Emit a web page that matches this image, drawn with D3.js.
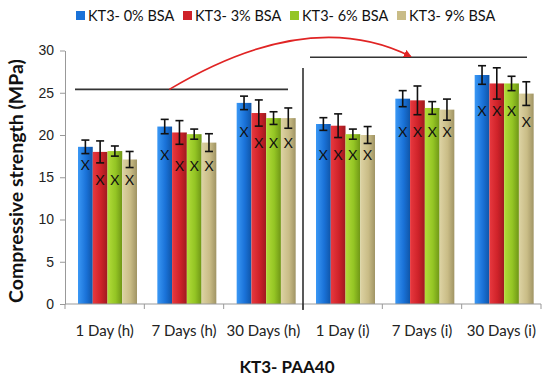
<!DOCTYPE html>
<html>
<head>
<meta charset="utf-8">
<script src="https://cdn.jsdelivr.net/npm/d3@7"></script>
<style>
  body { margin: 0; background: #fff; }
  svg { display: block; font-family: Lato, "Open Sans", sans-serif; }
</style>
</head>
<body>
<div id="chart"></div>
<script>
const categories = ['1 Day (h)', '7 Days (h)', '30 Days (h)', '1 Day (i)', '7 Days (i)', '30 Days (i)'];
const series = ['KT3- 0% BSA', 'KT3- 3% BSA', 'KT3- 6% BSA', 'KT3- 9% BSA'];
// mean strength per series, one value per category
const bsa0 = [18.6, 21.0, 23.8, 21.3, 24.3, 27.1];
const bsa3 = [18.0, 20.3, 22.6, 21.1, 24.1, 26.1];
const bsa6 = [18.1, 20.1, 22.0, 20.1, 23.2, 26.1];
const bsa9 = [17.1, 19.1, 22.0, 20.0, 23.0, 24.9];
// error (+/-)
const err0 = [0.8, 0.85, 0.8, 0.75, 0.95, 1.1];
const err3 = [1.3, 1.4, 1.55, 1.4, 1.7, 1.85];
const err6 = [0.6, 0.6, 0.75, 0.6, 0.75, 0.85];
const err9 = [0.95, 1.05, 1.2, 1.0, 1.25, 1.4];
// position of the "X" markers
const mark0 = [16.4, 17.6, 20.4, 17.6, 20.4, 22.9];
const mark3 = [14.7, 16.3, 19.0, 17.6, 20.4, 22.9];
const mark6 = [14.7, 16.3, 19.0, 17.6, 20.4, 22.9];
const mark9 = [14.7, 16.3, 19.0, 17.6, 20.4, 21.6];
const yTicks = [0, 5, 10, 15, 20, 25, 30];
// annotation levels
const levelH = 25.4;
const levelI = 29.2;

const colors = [['#3a98f5', '#1a72d8', '#0f55a8'], ['#e8393f', '#cf2229', '#9e1a20'],
                ['#b2dc3a', '#94c524', '#6f9616'], ['#ddd3a4', '#c9bc86', '#a09464']];

const width = 550, height = 381;
const margin = {top: 50, right: 9, bottom: 77, left: 65};

const svg = d3.select('#chart').append('svg')
  .attr('width', width).attr('height', height);

const defs = svg.append('defs');
colors.forEach((c, i) => {
  const g = defs.append('linearGradient').attr('id', 'grad' + i)
    .attr('x1', '0%').attr('x2', '100%').attr('y1', '0%').attr('y2', '0%');
  g.append('stop').attr('offset', '0%').attr('stop-color', c[0]);
  g.append('stop').attr('offset', '55%').attr('stop-color', c[1]);
  g.append('stop').attr('offset', '100%').attr('stop-color', c[2]);
});

const x = d3.scaleBand().domain(categories)
  .range([margin.left, width - margin.right]);
const xs = d3.scaleBand().domain(series).range([13, 72]);
const y = d3.scaleLinear().domain([0, 30]).range([304, 50.5]);

const values = [bsa0, bsa3, bsa6, bsa9];
const errs = [err0, err3, err6, err9];
const marks = [mark0, mark3, mark6, mark9];
const rows = [];
categories.forEach((c, ci) => series.forEach((s, si) => rows.push({
  cat: c, s, si, v: values[si][ci], e: errs[si][ci], m: marks[si][ci]
})));

// y axis
svg.append('g')
  .attr('transform', `translate(${margin.left},0)`)
  .call(d3.axisLeft(y).tickValues(yTicks).tickSize(5).tickSizeOuter(0).tickPadding(6))
  .call(g => g.selectAll('path,line').attr('stroke', '#999'))
  .call(g => g.selectAll('text').attr('font-size', 14).attr('fill', '#222'));

// bars
const bars = svg.append('g');
bars.selectAll('rect').data(rows).join('rect')
  .attr('x', d => x(d.cat) + xs(d.s))
  .attr('y', d => y(d.v))
  .attr('width', xs.bandwidth())
  .attr('height', d => y(0) - y(d.v))
  .attr('fill', d => `url(#grad${d.si})`);

// error bars
const eb = svg.append('g').attr('stroke', '#111').attr('stroke-width', 1.6);
rows.forEach(d => {
  const cx = x(d.cat) + xs(d.s) + xs.bandwidth() / 2;
  eb.append('line').attr('x1', cx).attr('x2', cx).attr('y1', y(d.v + d.e)).attr('y2', y(d.v - d.e));
  eb.append('line').attr('x1', cx - 4).attr('x2', cx + 4).attr('y1', y(d.v + d.e)).attr('y2', y(d.v + d.e));
  eb.append('line').attr('x1', cx - 4).attr('x2', cx + 4).attr('y1', y(d.v - d.e)).attr('y2', y(d.v - d.e));
});

// X markers
svg.append('g').selectAll('text').data(rows).join('text')
  .attr('x', d => x(d.cat) + xs(d.s) + xs.bandwidth() / 2)
  .attr('y', d => y(d.m))
  .attr('dy', '0.36em')
  .attr('text-anchor', 'middle')
  .attr('font-size', 14)
  .attr('fill', '#111')
  .text('X');

// x axis
const xa = svg.append('g').attr('transform', `translate(0,${y(0)})`);
xa.append('line').attr('x1', margin.left).attr('x2', width - margin.right)
  .attr('stroke', '#999');
xa.selectAll('.tk').data(categories.concat(['end'])).join('line')
  .attr('x1', d => d === 'end' ? x.range()[1] : x(d))
  .attr('x2', d => d === 'end' ? x.range()[1] : x(d))
  .attr('y1', 0).attr('y2', 5).attr('stroke', '#999');
xa.selectAll('text').data(categories).join('text')
  .attr('x', d => x(d) + x.bandwidth() / 2)
  .attr('y', 32)
  .attr('text-anchor', 'middle')
  .attr('font-size', 15)
  .attr('fill', '#222')
  .text(d => d);

// divider between the two sets
const divX = x(categories[3]);
svg.append('line').attr('x1', divX).attr('x2', divX)
  .attr('y1', 68).attr('y2', y(0) + 6)
  .attr('stroke', '#222').attr('stroke-width', 1.5);

// level lines
svg.append('line')
  .attr('x1', x(categories[0]) + 10).attr('x2', x(categories[2]) + x.bandwidth() - 15)
  .attr('y1', y(levelH)).attr('y2', y(levelH))
  .attr('stroke', '#333').attr('stroke-width', 1.6);
svg.append('line')
  .attr('x1', x(categories[3]) + 7).attr('x2', x(categories[5]) + x.bandwidth() - 14)
  .attr('y1', y(levelI)).attr('y2', y(levelI))
  .attr('stroke', '#333').attr('stroke-width', 1.6);

// arrow
defs.append('marker').attr('id', 'arrow')
  .attr('viewBox', '0 0 10 10').attr('refX', 8).attr('refY', 5)
  .attr('markerWidth', 5).attr('markerHeight', 5).attr('orient', 'auto')
  .append('path').attr('d', 'M0,0L10,5L0,10z').attr('fill', '#e02424');
const p = d3.path();
const ax0 = x(categories[1]) + 25, ay0 = y(levelH);
const ax1 = x(categories[4]) + 28, ay1 = y(levelI) - 1;
p.moveTo(ax0, ay0);
p.quadraticCurveTo(309, 6, ax1, ay1);
svg.append('path').attr('d', p.toString())
  .attr('fill', 'none').attr('stroke', '#e02424').attr('stroke-width', 1.6)
  .attr('marker-end', 'url(#arrow)');

// legend
const leg = svg.append('g');
series.forEach((s, i) => {
  const g = leg.append('g').attr('transform', `translate(${76 + i * 107},11)`);
  g.append('rect').attr('width', 9).attr('height', 9).attr('fill', colors[i][1]);
  g.append('text').attr('x', 12).attr('y', 9.5)
    .attr('font-size', 14.5).attr('fill', '#111').text(s);
});

// titles
svg.append('text')
  .attr('transform', `translate(23,181) rotate(-90)`)
  .attr('text-anchor', 'middle')
  .attr('font-size', 19.5).attr('font-weight', 'bold').attr('fill', '#111')
  .text('Compressive strength (MPa)');
svg.append('text')
  .attr('x', 287).attr('y', 373)
  .attr('text-anchor', 'middle')
  .attr('font-size', 17).attr('font-weight', 'bold').attr('fill', '#111')
  .text('KT3- PAA40');
</script>
</body>
</html>
